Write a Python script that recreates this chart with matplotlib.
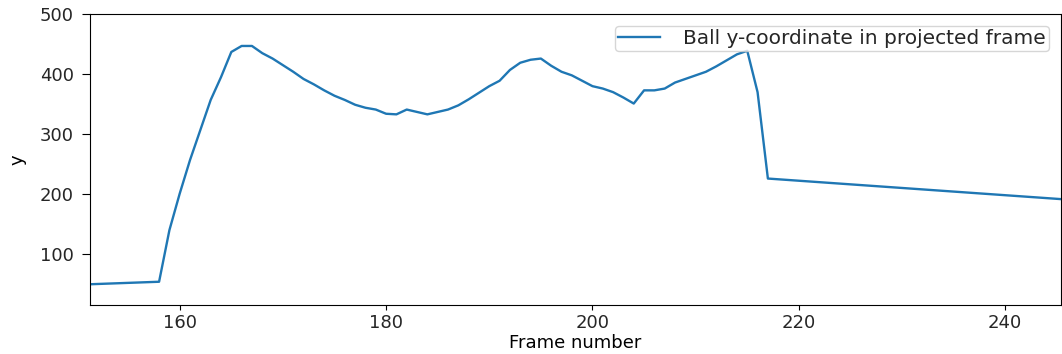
import matplotlib
matplotlib.use("Agg")
import matplotlib.pyplot as plt

# Ball trajectory: frame index and projected y-coordinate
frames = [150, 158, 159, 160, 161, 162, 163, 164, 165, 166, 167, 168, 169, 170,
          171, 172, 173, 174, 175, 176, 177, 178, 179, 180, 181, 182, 183, 184,
          185, 186, 187, 188, 189, 190, 191, 192, 193, 194, 195, 196, 197, 198,
          199, 200, 201, 202, 203, 204, 205, 206, 207, 208, 209, 210, 211, 212,
          213, 214, 215, 216, 217, 246]
y_coord = [49, 54, 140, 201, 257, 307, 357, 395, 437, 447, 447, 435, 426, 415,
           404, 392, 383, 373, 364, 357, 349, 344, 341, 334, 333, 341, 337, 333,
           337, 341, 348, 358, 369, 380, 389, 407, 419, 424, 426, 414, 404, 398,
           389, 380, 376, 370, 361, 351, 373, 373, 376, 386, 392, 398, 404, 413,
           423, 433, 439, 370, 226, 191]

plt.rcParams["font.size"] = 13
plt.rcParams["text.color"] = "#262626"
plt.rcParams["xtick.labelcolor"] = "#262626"
plt.rcParams["ytick.labelcolor"] = "#262626"

fig, ax = plt.subplots(figsize=(10.62, 3.54), dpi=100)
fig.subplots_adjust(left=0.0847, right=0.999, top=0.960, bottom=0.138)

ax.plot(frames, y_coord, color="#1f77b4", linewidth=1.7,
        label="Ball y-coordinate in projected frame")
ax.set_xlim(151.3, 245.4)
ax.set_ylim(15, 500)
ax.set_xticks([160, 180, 200, 220, 240])
ax.set_yticks([100, 200, 300, 400, 500])
ax.tick_params(axis="y", length=5.5, pad=6)
ax.tick_params(axis="x", length=3.5, pad=3)
ax.set_xlabel("Frame number", labelpad=1)
ax.set_ylabel("y", labelpad=10)
ax.legend(loc="upper right", fontsize=14.5, borderpad=0.15, handlelength=2.1,
          handletextpad=1.15, borderaxespad=0.6)

fig.savefig("out.png", dpi=100)
